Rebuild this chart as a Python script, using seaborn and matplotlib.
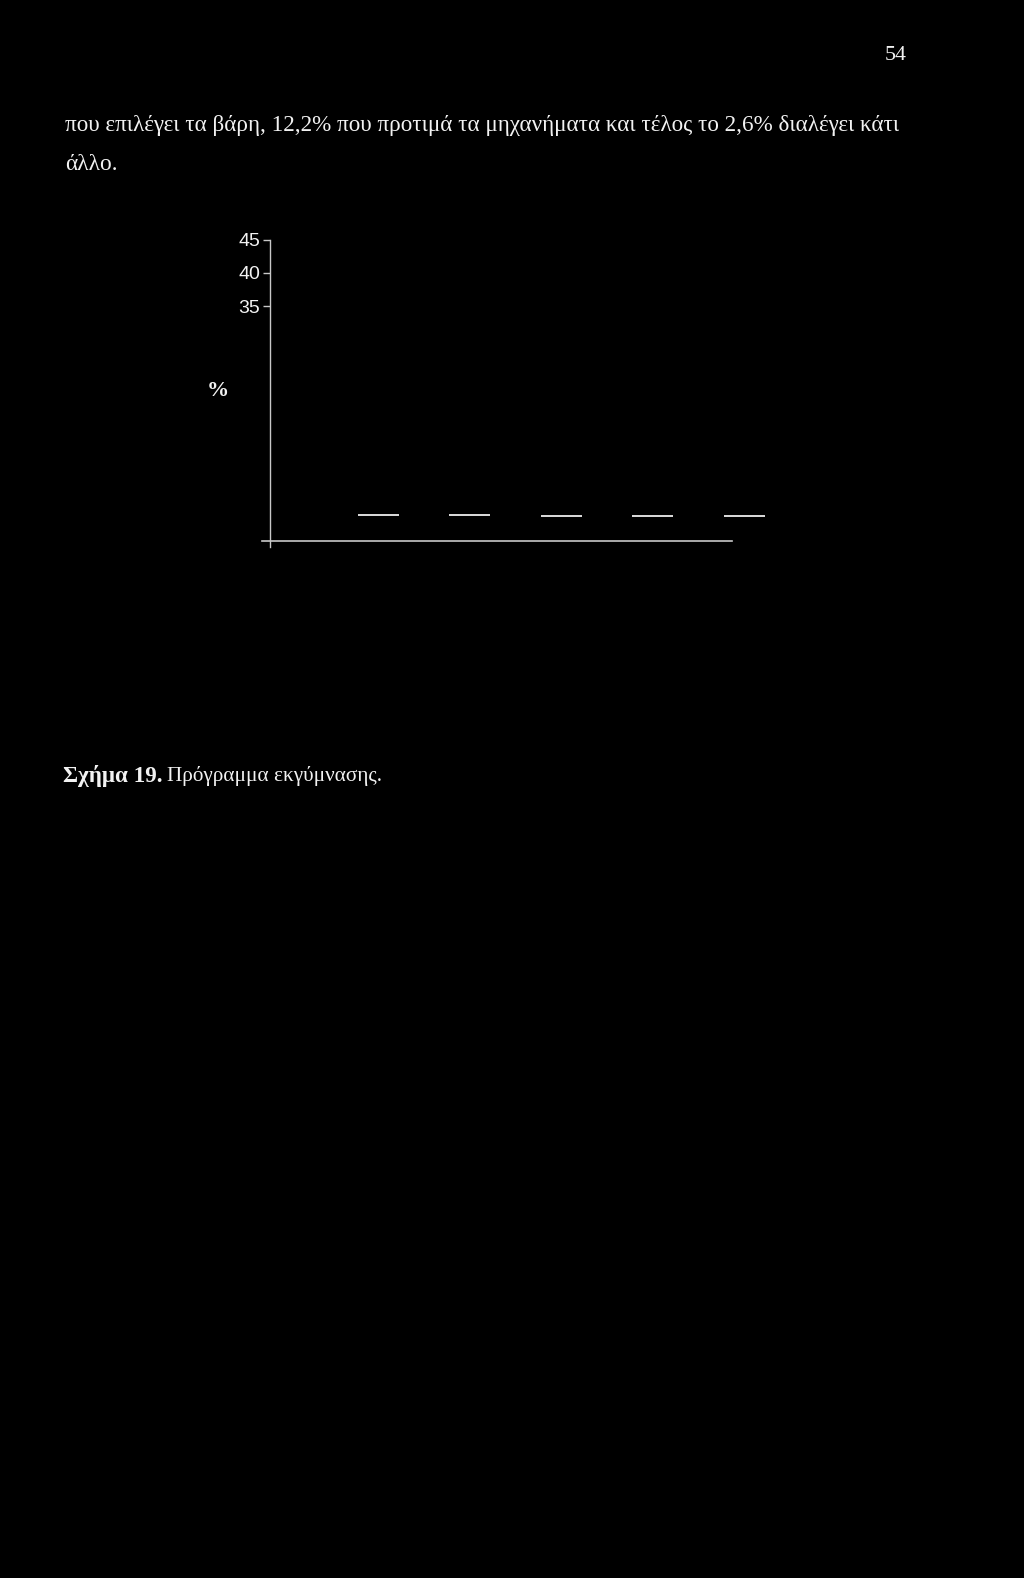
import matplotlib
matplotlib.use("Agg")
import matplotlib.pyplot as plt
import seaborn as sns
import pandas as pd

# ---- data ----
categories = ["Α", "Β", "Γ", "Δ", "Ε"]
values = [3.8, 3.8, 3.7, 3.7, 3.7]
yticks = [35, 40, 45]

page_number = "54"
para_line1 = "που επιλέγει τα βάρη, 12,2% που προτιμά τα μηχανήματα και τέλος το 2,6% διαλέγει κάτι"
para_line2 = "άλλο."
caption_bold = "Σχήμα 19."
caption_rest = "Πρόγραμμα εκγύμνασης."

sns.set_theme(style="white")
plt.rcParams['font.family'] = ['Liberation Serif', 'DejaVu Serif']

W, H = 1024, 1578
fig = plt.figure(figsize=(W / 100, H / 100), dpi=100, facecolor="black")

FG = "#f2f2f2"
AX = "#c8c8c8"

# axes geometry (pixels)
x_left_px, x_right_px = 270, 771.5
y_top_px, y_bot_px = 239.5, 540.5
ax = fig.add_axes([x_left_px / W, 1 - y_bot_px / H,
                   (x_right_px - x_left_px) / W, (y_bot_px - y_top_px) / H])
ax.set_facecolor("black")

df = pd.DataFrame({"cat": categories, "val": values})
sns.barplot(data=df, x="cat", y="val", color="black", width=0.45,
            edgecolor="none", ax=ax, errorbar=None)
for p in ax.patches:
    ax.plot([p.get_x(), p.get_x() + p.get_width()], [p.get_height()] * 2,
            color="#dcdcdc", lw=1.4, solid_capstyle="butt", clip_on=False)

ax.set_xlim(-1.187, 4.3)
ax.set_ylim(0, 45)
ax.set_yticks(yticks)
ax.set_yticklabels([str(t) for t in yticks], family="Liberation Sans",
                   fontsize=14, color=FG)
ax.set_xticks([])
ax.set_xlabel("")
ax.tick_params(axis="y", left=True, length=5, width=1, color=AX, pad=2)

for s in ["top", "right"]:
    ax.spines[s].set_visible(False)
ax.spines["left"].set_color(AX)
ax.spines["left"].set_linewidth(1)
ax.spines["left"].set_bounds(-1, 45)
ax.spines["bottom"].set_color(AX)
ax.spines["bottom"].set_linewidth(1.2)
ax.spines["bottom"].set_bounds(-1.27, 3.87)

ax.set_ylabel("%", rotation=0, fontweight="bold", fontsize=16, color=FG,
              family="Liberation Serif", ha="center", va="center")
ax.yaxis.set_label_coords(-0.104, 0.497)

# ---- page text ----
renderer = fig.canvas.get_renderer()


def fit_text(x0_px, x1_px, y_px, s, ha="left", **kw):
    t = fig.text((x0_px if ha == "left" else x1_px) / W, 1 - y_px / H, s,
                 ha=ha, va="center", color=FG, fontsize=17, **kw)
    w = t.get_window_extent(renderer).width
    t.set_fontsize(17 * (x1_px - x0_px) / w)
    return t


fit_text(885, 907, 55, page_number, ha="right", family="Liberation Serif")
fit_text(65, 899, 125, para_line1, family="Liberation Serif")
t2 = fig.text(65 / W, 1 - 164 / H, para_line2, ha="left", va="center",
              fontsize=16.8, color=FG, family="Liberation Serif")
fit_text(63, 162, 776, caption_bold, family="Liberation Serif", fontweight="bold")
fit_text(167, 382, 776, caption_rest, family="Liberation Serif")

fig.savefig("out.png", dpi=100, facecolor="black")
